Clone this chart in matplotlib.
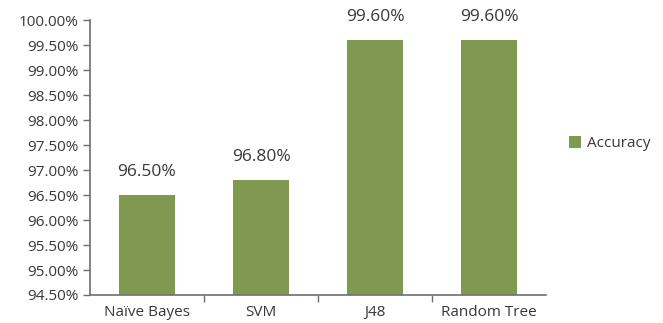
import numpy as np
import matplotlib
matplotlib.use("Agg")
from matplotlib import pyplot as plt
from matplotlib.ticker import FuncFormatter, MultipleLocator

classifiers = ["Naïve Bayes", "SVM", "J48", "Random Tree"]
accuracy = [96.5, 96.8, 99.6, 99.6]
series_name = "Accuracy"

bar_color = "#7f9a50"
text_color = "#383838"
axis_color = "#6e6e6e"

plt.rcParams["font.family"] = ["Open Sans", "DejaVu Sans"]

fig = plt.figure(figsize=(6.63, 3.23), dpi=100)
ax = fig.add_axes([0.1357, 0.0867, 0.688, 0.851])

x = np.arange(len(classifiers))
bars = ax.bar(x, accuracy, width=0.49, color=bar_color, label=series_name, zorder=2)

for b, v in zip(bars, accuracy):
    ax.annotate("%.2f%%" % v, (b.get_x() + b.get_width() / 2, v),
                xytext=(0, 11), textcoords="offset points",
                ha="center", va="bottom", fontsize=12.5, color=text_color,
                annotation_clip=False)

ax.set_ylim(94.5, 100)
ax.set_xlim(-0.5, len(classifiers) - 0.5)
ax.yaxis.set_major_locator(MultipleLocator(0.5))
ax.yaxis.set_major_formatter(FuncFormatter(lambda v, p: "%.2f%%" % v))

# category labels centred, tick marks on the boundaries
ax.set_xticks(x)
ax.set_xticklabels(classifiers)
ax.set_xticks(np.arange(0.5, len(classifiers) - 1, 1), minor=True)
ax.tick_params(axis="x", which="major", length=0, pad=7, labelsize=11, labelcolor=text_color)
ax.tick_params(axis="x", which="minor", length=5, width=1, color=axis_color)
ax.tick_params(axis="y", length=5, width=1, color=axis_color, labelsize=11,
               labelcolor=text_color, pad=3)

for s in ["top", "right"]:
    ax.spines[s].set_visible(False)
ax.spines["left"].set_color(axis_color)
ax.spines["bottom"].set_color(axis_color)
ax.spines["left"].set_linewidth(1.2)
ax.spines["bottom"].set_linewidth(1.2)

leg = ax.legend(loc="center left", bbox_to_anchor=(1.02, 0.55), frameon=False,
                fontsize=11, handlelength=0.8, handleheight=0.8, handletextpad=0.4)
for t in leg.get_texts():
    t.set_color(text_color)

fig.savefig("out.png", dpi=100)
